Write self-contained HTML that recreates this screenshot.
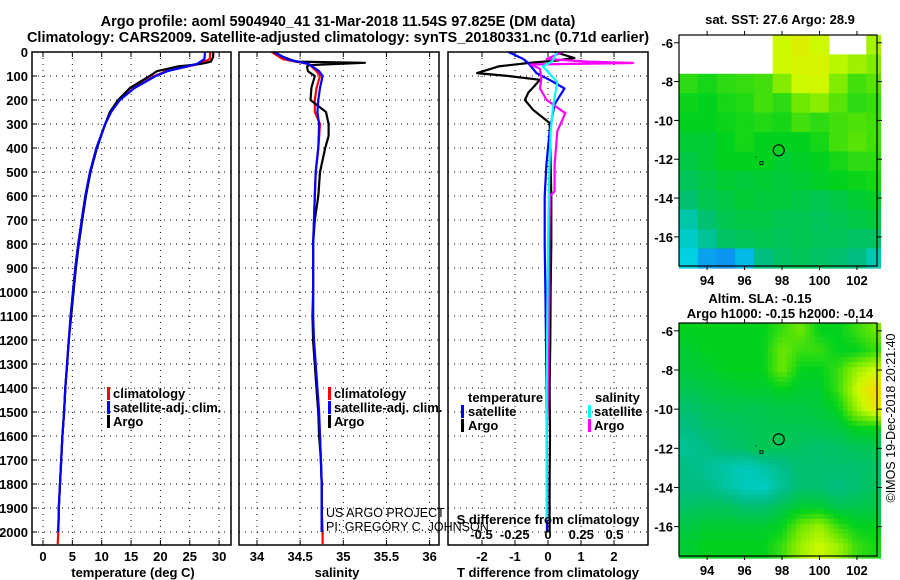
<!DOCTYPE html>
<html><head><meta charset="utf-8">
<style>
html,body{margin:0;padding:0;background:#fff;}
svg{display:block;font-family:"Liberation Sans",sans-serif;}
.t{font-weight:bold;font-size:14.5px;}
.tk{font-weight:bold;font-size:13px;}
.lg{font-weight:bold;font-size:13px;}
.plain{font-weight:normal;font-size:12.5px;}
</style></head>
<body>
<svg id="chart" width="900" height="580" viewBox="0 0 900 580" xmlns="http://www.w3.org/2000/svg">
<rect width="900" height="580" fill="#fff"/>
<text class="t" x="338" y="26" text-anchor="middle">Argo profile: aoml 5904940_41 31-Mar-2018 11.54S 97.825E (DM data)</text>
<text class="t" x="338" y="42" text-anchor="middle">Climatology: CARS2009. Satellite-adjusted climatology: synTS_20180331.nc (0.71d earlier)</text>
<g id="g"></g>
</svg>
<script>
// ---------- data ----------
const depthTicks=[0,100,200,300,400,500,600,700,800,900,1000,1100,1200,1300,1400,1500,1600,1700,1800,1900,2000];
const tTicks=[0,5,10,15,20,25,30];
const sTicks=[34,34.5,35,35.5,36];
const sTickLabels=["34","34.5","35","35.5","36"];
const dtTicks=[-2,-1,0,1,2];
const dsTicks=[-0.5,-0.25,0,0.25,0.5];
const dsTickLabels=["-0.5","-0.25","0","0.25","0.5"];

const argoP=[0,20,40,45,50,55,60,80,100,150,200,250,300,350,400,500,600,700,800,900,1000,1100,1200,1300,1400,1500,1600,1700,1800,1900,2000];
const argoT=[29.0,29.0,28.6,27.8,26.7,25,23,19.4,18.2,14.8,12.8,11.4,10.6,9.9,9.2,8.1,7.3,6.7,6.1,5.6,5.2,4.8,4.4,4.1,3.8,3.6,3.3,3.1,2.9,2.7,2.6];
const argoS=[34.19,34.3,34.45,35.25,34.9,34.6,34.58,34.59,34.67,34.63,34.62,34.8,34.83,34.83,34.79,34.73,34.71,34.67,34.65,34.65,34.65,34.65,34.65,34.67,34.69,34.71,34.72,34.74,34.75,34.75,34.75];
const climP=[0,30,50,80,100,150,200,250,300,400,500,600,700,800,900,1000,1100,1200,1300,1400,1500,1600,1700,1800,1900,2000,2050];
const climT=[28.5,28.4,26.5,21,19,15.5,13,11.6,10.6,9.1,8.0,7.2,6.6,6.0,5.5,5.1,4.7,4.4,4.1,3.8,3.6,3.3,3.1,2.9,2.7,2.6,2.5];
const climS=[34.17,34.3,34.6,34.69,34.73,34.69,34.67,34.67,34.73,34.71,34.68,34.67,34.66,34.65,34.65,34.65,34.64,34.65,34.67,34.69,34.71,34.73,34.74,34.75,34.75,34.76,34.76];
const satT=[27.6,27.5,26.2,21.2,19.2,15.6,13.1,11.6,10.6,9.1,8.0,7.2,6.6,6.0,5.5,5.1,4.7,4.4,4.1,3.8,3.6,3.3,3.1,2.9,2.7,2.6,2.6];
const satS=[34.2,34.35,34.6,34.72,34.76,34.73,34.71,34.7,34.72,34.71,34.68,34.67,34.66,34.65,34.65,34.65,34.65,34.66,34.68,34.7,34.72,34.73,34.74,34.75,34.75,34.75,34.75];

const dArgoP=[0,25,35,46,60,88,100,116,140,170,200,241,296,400,600,800,1000,1200,1400,1600,1800,2000];
const dArgoT=[0.2,0.8,0.3,-0.6,-1.5,-2.15,-1.2,-0.25,-0.4,-0.6,-0.7,-0.45,0.05,0.07,0.1,0.1,0.08,0.07,0.05,0.06,0.05,0.05];
const dSatP=[0,29,46,88,120,152,218,330,470,600,800,1000,1200,1400,1600,1800,2000];
const dSatT=[-1.2,-0.75,-0.6,-0.35,0.1,0.5,0.2,0.05,-0.05,-0.1,-0.1,-0.08,-0.06,-0.05,-0.04,-0.03,-0.03];
const dArgoSP=[0,29,40,46,52,70,110,152,200,255,330,470,580,600,800,1000,1200,1400,1600,1800,1950];
const dArgoS=[0.11,-0.01,0.3,0.64,-0.13,-0.06,-0.05,-0.06,-0.01,0.13,0.07,0.05,0.05,0.015,0.01,0.01,0.005,0.0,-0.01,-0.01,-0.01];
const dSatSP=[0,40,60,125,222,330,500,800,1100,1400,1700,1950];
const dSatS=[0.07,0.03,-0.04,0.07,0.04,0.02,0.01,0.0,-0.005,-0.01,-0.01,-0.01];

// SST map grid (lon 93..103 cols, lat -6..-17 rows); null = no data
const sstGrid=[
[null,null,null,null,null,5,5.3,5,null,null,4.6],
[null,null,null,null,null,5,5.2,5.2,4.8,4.5,4.2],
[3.4,3.2,3.4,3.5,3.6,4.2,5,5.1,4.2,3.6,3.8],
[3.1,3.0,3.2,3.3,3.6,3.4,4,4.3,3.8,3.4,3.5],
[3.0,3.0,3.1,3.2,3.3,3.2,3.6,3.4,3.6,3.7,3.6],
[2.8,2.8,3.0,3.2,3.0,3.0,3.0,3.2,3.6,3.8,3.6],
[2.6,2.8,3.0,3.0,3.0,2.8,2.9,3.0,3.2,3.4,3.4],
[2.4,2.6,2.8,2.7,2.8,2.7,2.8,2.9,3.0,3.1,3.2],
[2.2,2.5,2.6,2.8,2.7,2.7,2.6,2.5,2.6,2.8,2.9],
[1.6,2.2,2.5,2.6,2.6,2.5,2.5,2.4,2.5,2.6,2.7],
[1.3,1.8,2.3,2.4,2.5,2.4,2.5,2.4,2.4,2.3,2.3],
[1.0,0.6,0.5,0.8,2.0,2.3,2.4,2.3,2.2,2.0,1.5]];
// SLA map grid
const slaGrid=[
[3,3,3,3,3,3.5,4,3,3,3.5,4],
[2.8,3,3,3,3,4,3.5,3.5,3,3,3.5],
[2.7,2.8,3,3,3,4,3,3,3.5,4.5,5],
[2.5,2.6,2.7,2.8,2.8,3,2.8,2.8,3.5,5,6],
[2.2,2.4,2.5,2.5,2.5,2.6,2.6,2.7,3,4.5,5.5],
[2,2.2,2.3,2.4,2.5,2.5,2.5,2.5,2.6,3,3],
[1.8,2,2.2,2.3,2.5,2.4,2.3,2.2,2.3,2.4,2.5],
[2,1.8,1.6,1.4,1.6,1.9,2.2,2.2,2.2,2.2,2.3],
[2,2,1.7,1.4,1.3,1.8,2.2,2.2,2,2.2,2.4],
[2.3,2.4,2.4,2.2,2.2,2.5,2.8,2.8,2.5,2.5,2.6],
[2.6,2.8,2.8,2.8,2.8,3,4,4.5,3.5,3,3],
[2.8,3,3,3,3,3.5,4.5,5,4.5,3.5,3.2]];
const mapLonTicks=[94,96,98,100,102];
const mapLatTicks=[-6,-8,-10,-12,-14,-16];
const argoLon=97.825, argoLat=-11.54;

// ---------- helpers ----------
const NS="http://www.w3.org/2000/svg";
const G=document.getElementById('g');
function mk(tag,attrs,parent){const e=document.createElementNS(NS,tag);for(const k in attrs)e.setAttribute(k,attrs[k]);(parent||G).appendChild(e);return e;}
const yD=d=>52+0.24*d;
const PB=545;
const panels=[{x0:32,x1:231},{x0:239,x1:439},{x0:448,x1:648}];
const xT=v=>43+5.87*v, xS=v=>257+86.3*(v-34), xDT=v=>548+33*v, xDS=v=>548+133*v;

function grid(p,xs){
  for(const d of depthTicks){const l=mk('line',{x1:p.x0,x2:p.x1,y1:yD(d),y2:yD(d),stroke:'#000','stroke-width':1,'stroke-dasharray':'1 5'});
  }
  for(const x of xs){const l=mk('line',{x1:x,x2:x,y1:52,y2:PB,stroke:'#000','stroke-width':1,'stroke-dasharray':'1 5'});
  
  mk('line',{x1:x,x2:x,y1:PB,y2:PB-5,stroke:'#000'});mk('line',{x1:x,x2:x,y1:52,y2:57,stroke:'#000'});}
}
function frame(p,name){const r=mk('rect',{x:p.x0,y:52,width:p.x1-p.x0,height:PB-52,fill:'none',stroke:'#000','stroke-width':1.5});
}
function line(P,V,fx,col,name,w){
  const pts=P.map((d,i)=>fx(V[i]).toFixed(1)+','+yD(d).toFixed(1)).join(' ');
  const l=mk('polyline',{points:pts,fill:'none',stroke:col,'stroke-width':w||2.2,'stroke-linejoin':'round'});
  
}
function txt(x,y,s,cls,anchor,name,extra){const t=mk('text',Object.assign({x:x,y:y,class:cls||'tk','text-anchor':anchor||'start'},extra||{}));t.textContent=s;
return t;}
function bar(x,y,col){mk('rect',{x:x,y:y-11,width:3,height:13,fill:col});}

// ---------- panel 1: temperature ----------
grid(panels[0],tTicks.map(xT));
line(climP,climT,xT,'#f00','series-temp-climatology');
line(argoP,argoT,xT,'#000','series-temp-argo');
line(climP.slice(0,-1),satT.slice(0,-1),xT,'#00f','series-temp-satellite');
frame(panels[0],'temperature-plot-area');
depthTicks.forEach(d=>{txt(28,yD(d)+5,String(d),'tk','end','y-tick-label');mk('line',{x1:32,x2:37,y1:yD(d),y2:yD(d),stroke:'#000'});});
tTicks.forEach(v=>txt(xT(v),561,String(v),'tk','middle','x-tick-label-temp'));
txt(133,577,'temperature (deg C)','tk','middle','x-axis-title-temperature');
[['climatology','#f00',398],['satellite-adj. clim.','#00f',412],['Argo','#000',426]].forEach(a=>{bar(107,a[2],a[1]);txt(113,a[2],a[0],'lg','start','legend-entry-temp');});

// ---------- panel 2: salinity ----------
grid(panels[1],sTicks.map(xS));
line(climP,climS,xS,'#f00','series-sal-climatology');
line(argoP,argoS,xS,'#000','series-sal-argo');
line(climP.slice(0,-1),satS.slice(0,-1),xS,'#00f','series-sal-satellite');
frame(panels[1],'salinity-plot-area');
sTicks.forEach((v,i)=>txt(xS(v),561,sTickLabels[i],'tk','middle','x-tick-label-sal'));
txt(337,577,'salinity','tk','middle','x-axis-title-salinity');
[['climatology','#f00',398],['satellite-adj. clim.','#00f',412],['Argo','#000',426]].forEach(a=>{bar(328,a[2],a[1]);txt(334,a[2],a[0],'lg','start','legend-entry-sal');});

// ---------- panel 3: differences ----------
grid(panels[2],dtTicks.map(xDT));
line(dArgoP,dArgoT,xDT,'#000','series-dT-argo');
line(dSatP,dSatT,xDT,'#00f','series-dT-satellite');
line(dArgoSP,dArgoS,xDS,'#f0f','series-dS-argo');
line(dSatSP,dSatS,xDS,'#0ff','series-dS-satellite');
frame(panels[2],'difference-plot-area');
dtTicks.forEach(v=>txt(xDT(v),561,String(v),'tk','middle','x-tick-label-dT'));
dsTicks.forEach((v,i)=>txt(xDS(v),539,dsTickLabels[i],'tk','middle','x-tick-label-dS'));
txt(548,524,'S difference from climatology','tk','middle','s-diff-axis-title');
txt(548,577,'T difference from climatology','tk','middle','x-axis-title-t-diff');
txt(468,402,'temperature','lg','start','legend-title-temperature');
txt(595,402,'salinity','lg','start','legend-title-salinity');
bar(461,416,'#00f');txt(468,416,'satellite','lg','start','legend-entry-t-satellite');
bar(461,430,'#000');txt(468,430,'Argo','lg','start','legend-entry-t-argo');
bar(588,416,'#0ff');txt(594,416,'satellite','lg','start','legend-entry-s-satellite');
bar(588,430,'#f0f');txt(594,430,'Argo','lg','start','legend-entry-s-argo');
txt(326,517,'US ARGO PROJECT','plain','start','credit-project');
txt(326,531,'PI: GREGORY C. JOHNSON','plain','start','credit-pi');

// ---------- maps ----------
const stops=[[0,[20,90,255]],[1,[0,210,225]],[2,[0,190,130]],[3,[0,210,30]],[4,[110,232,0]],[5,[205,250,0]],[6,[250,215,0]]];
function cmap(v){v=Math.max(0,Math.min(6,v));const i=Math.min(5,Math.floor(v)),f=v-i;const a=stops[i][1],b=stops[i+1][1];
return 'rgb('+a.map((c,k)=>Math.round(c+(b[k]-c)*f)).join(',')+')';}
function drawMap(M,gridv,smooth,name){
  const lonL=92.5,lonR=103.07,latT=-5.6,latB=-17.5;
  const fx=lon=>M.x0+(lon-lonL)/(lonR-lonL)*(M.x1-M.x0);
  const fy=lat=>M.y0+(latT-lat)/(latT-latB)*(M.y1-M.y0);
  const g=mk('g',{});
  const step=0.25;
  for(let lat=latT;lat>latB-1e-6;lat-=step){
    for(let lon=lonL;lon<lonR;lon+=step){
      const cl=lon+step/2, ca=lat-step/2;
      let fr=Math.max(0,Math.min(11,(-6-ca))), fc=Math.max(0,Math.min(10,cl-93));
      let v;
      if(smooth){const r0=Math.floor(fr),c0=Math.floor(fc),r1=Math.min(11,r0+1),c1=Math.min(10,c0+1),a=fr-r0,b=fc-c0;
        v=gridv[r0][c0]*(1-a)*(1-b)+gridv[r1][c0]*a*(1-b)+gridv[r0][c1]*(1-a)*b+gridv[r1][c1]*a*b;}
      else{const r=Math.round(fr),c=Math.round(fc);v=gridv[r][c];
        if(ca>-7.5&&cl<97.3)v=null;}
      if(v===null||v===undefined)continue;
      const x=fx(lon),y=fy(lat);
      mk('rect',{x:x.toFixed(1),y:y.toFixed(1),width:(fx(lon+step)-x+0.6).toFixed(1),height:(fy(lat-step)-y+0.6).toFixed(1),fill:cmap(v)},g);
    }
  }
  const f=mk('rect',{x:M.x0,y:M.y0,width:M.x1-M.x0,height:M.y1-M.y0,fill:'none',stroke:'#000','stroke-width':1.2});
  
  mapLonTicks.forEach(l=>{mk('line',{x1:fx(l),x2:fx(l),y1:M.y0-4,y2:M.y0,stroke:'#000'});mk('line',{x1:fx(l),x2:fx(l),y1:M.y1,y2:M.y1+4,stroke:'#000'});
    txt(fx(l),M.y1+19,String(l),'tk','middle','map-lon-label');});
  mapLatTicks.forEach(l=>{mk('line',{x1:M.x0-5,x2:M.x0,y1:fy(l),y2:fy(l),stroke:'#000'});mk('line',{x1:M.x1,x2:M.x1+5,y1:fy(l),y2:fy(l),stroke:'#000'});
    txt(M.x0-6,fy(l)+5,String(l),'tk','end','map-lat-label');});
  const c=mk('circle',{cx:fx(argoLon),cy:fy(argoLat),r:5.5,fill:'none',stroke:'#000','stroke-width':1.2});
  
  mk('rect',{x:fx(96.9)-1.5,y:fy(-12.2)-1.5,width:3,height:3,fill:'none',stroke:'#000','stroke-width':0.8});
  mk('rect',{x:fx(96.6),y:fy(-11.85),width:1,height:1,fill:'#000'});
}
drawMap({x0:679,x1:877,y0:35,y1:266},sstGrid,false,'sst-map');
drawMap({x0:679,x1:877,y0:323,y1:556},slaGrid,true,'sla-map');
txt(780,24,'sat. SST: 27.6 Argo: 28.9','tk','middle','sst-map-title');
txt(760,303,'Altim. SLA: -0.15','tk','middle','sla-map-title');
txt(780,318,'Argo h1000: -0.15 h2000: -0.14','tk','middle','sla-map-subtitle');
txt(0,0,'\u00a9IMOS 19-Dec-2018 20:21:40','plain','middle','timestamp-credit',{transform:'translate(895,418) rotate(-90)'});
</script>
</body></html>
